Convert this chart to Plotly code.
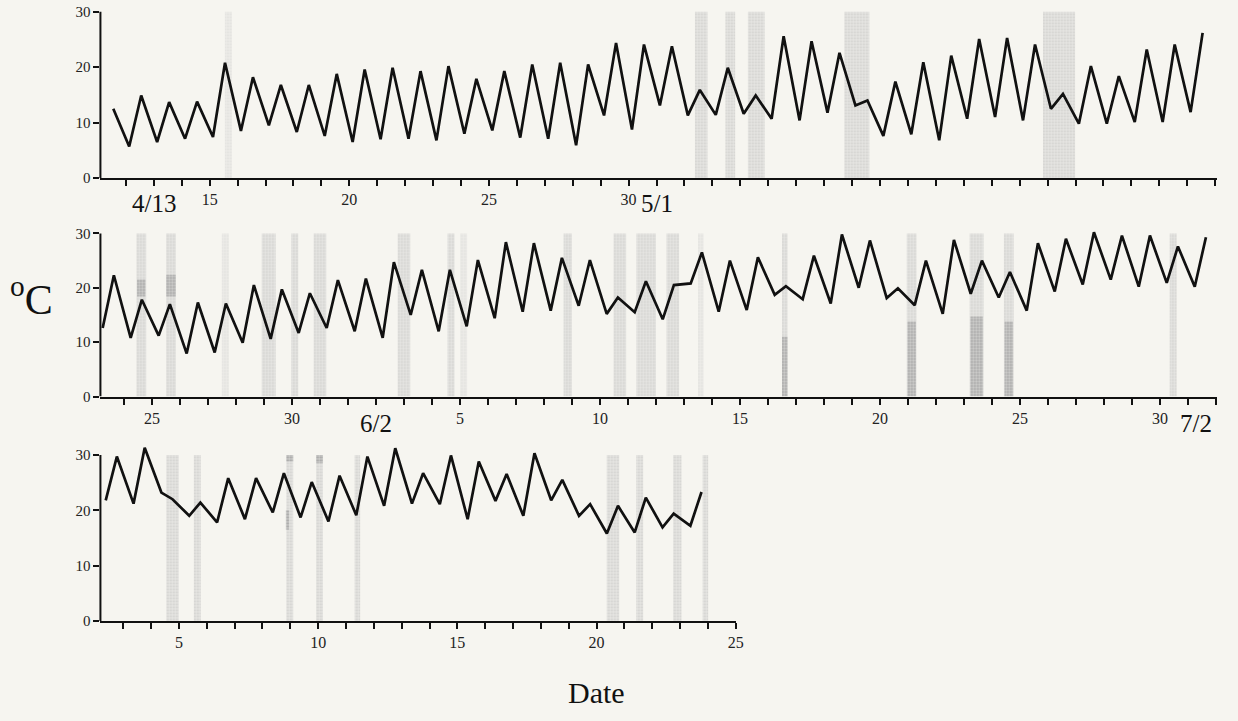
import plotly.graph_objects as go

# ---------------- data ----------------
# Panel 1: April 11 .. May 20 (day number counted from April 0; May d -> 30+d)
days1 = list(range(11, 51))
tmin1 = [None, 5.7, 6.5, 7.1, 7.4, 8.5, 9.5, 8.3, 7.6, 6.5, 7.0, 7.1, 6.8, 8.0, 8.6, 7.3, 7.1, 5.9, 11.3, 8.75,
         13.1, 11.3, 11.4, 11.6, 10.7, 10.4, 11.8, 13.1, 7.6, 7.9, 6.8, 10.7, 11.0, 10.4, 12.5, 9.8, 9.8, 10.1, 10.1, 11.9]
tmax1 = [12.5, 14.9, 13.7, 13.8, 20.8, 18.2, 16.8, 16.8, 18.8, 19.6, 19.9, 19.3, 20.2, 17.9, 19.3, 20.5, 20.8, 20.5, 24.4, 24.1,
         23.8, 15.9, 19.9, 14.9, 25.6, 24.7, 22.6, 14.0, 17.4, 20.9, 22.1, 25.1, 25.3, 24.1, 15.2, 20.2, 18.4, 23.2, 24.1, 26.2]

# Panel 2: May 23 .. July 1 (day number counted from May 0; June d -> 31+d, July d -> 61+d)
days2 = list(range(23, 63))
tmin2 = [12.6, 10.8, 11.2, 7.9, 8.1, 9.9, 10.6, 11.7, 12.6, 12.0, 10.8, 15.0, 12.0, 12.9, 14.4, 15.6, 15.8, 16.7, 15.2, 15.5,
         14.2, 20.8, 15.6, 15.9, 18.7, 17.9, 17.1, 20.0, 18.1, 16.8, 15.2, 18.9, 18.2, 15.8, 19.3, 20.6, 21.5, 20.2, 20.9, 20.2]
tmax2 = [22.3, 17.8, 17.0, 17.3, 17.1, 20.5, 19.7, 19.0, 21.4, 21.7, 24.7, 23.3, 23.3, 25.1, 28.4, 28.2, 25.5, 25.1, 18.2, 21.2,
         20.5, 26.5, 25.0, 25.6, 20.3, 25.9, 29.8, 28.7, 19.9, 25.0, 28.8, 25.0, 22.9, 28.2, 29.0, 30.2, 29.6, 29.6, 27.6, 29.3]

# Panel 3: July 2 .. July 23
days3 = list(range(2, 24))
tmin3 = [21.8, 21.2, 23.2, 19.0, 17.8, 18.4, 19.6, 18.7, 18.0, 19.1, 20.8, 21.2, 21.1, 18.4, 21.7, 19.0, 21.8, 19.0, 15.8, 16.0, 16.9, 17.2]
tmax3 = [29.7, 31.3, 22.0, 21.4, 25.8, 25.8, 26.7, 25.1, 26.25, 29.7, 31.2, 26.7, 29.9, 28.8, 26.55, 30.3, 25.5, 21.1, 20.8, 22.3, 19.4, 23.3]

# rain periods (day, duration in days)
rain1_day = [32.6, 33.64, 34.57, 38.17, 45.41]
rain1_len = [0.45, 0.35, 0.6, 0.9, 1.15]
faint1_day = [15.67]
faint1_len = [0.25]
rain2_day = [24.62, 25.68, 29.17, 30.1, 31.0, 34.0, 35.68, 39.85, 41.71, 42.65, 43.6, 47.6, 52.13, 54.45, 55.6, 61.47]
rain2_len = [0.35, 0.35, 0.5, 0.25, 0.45, 0.45, 0.25, 0.3, 0.45, 0.7, 0.45, 0.2, 0.35, 0.5, 0.35, 0.25]
faint2_day = [27.62, 36.13, 44.6]
faint2_len = [0.25, 0.25, 0.2]
rain3_day = [4.77, 5.66, 8.98, 10.05, 11.41, 20.59, 21.55, 22.9, 23.91]
rain3_len = [0.45, 0.25, 0.25, 0.25, 0.2, 0.45, 0.25, 0.3, 0.2]

# darker stippled marks (day, low, high, duration)
mark2_day = [24.62, 25.68, 47.6, 52.13, 54.45, 55.6]
mark2_lo = [18.4, 18.4, 0, 0, 0, 0]
mark2_hi = [21.5, 22.4, 11.0, 13.8, 14.7, 13.8]
mark2_len = [0.3, 0.35, 0.2, 0.3, 0.45, 0.3]
mark3_day = [8.98, 10.05, 8.9]
mark3_lo = [28.8, 28.5, 16.5]
mark3_hi = [30.0, 30.0, 20.0]
mark3_len = [0.25, 0.25, 0.12]

# tick labels
ticks1 = {15: "15", 20: "20", 25: "25", 30: "30"}
ticks2 = {25: "25", 30: "30", 36: "5", 41: "10", 46: "15", 51: "20", 56: "25", 61: "30"}
ticks3 = {5: "5", 10: "10", 15: "15", 20: "20", 25: "25"}
date_marks1 = [(13, "4/13"), (31, "5/1")]
date_marks2 = [(33, "6/2"), (62.3, "7/2")]

# ---------------- figure ----------------
BG = "#f6f5f0"
SERIF = "Liberation Serif, Times New Roman, serif"
W, H = 1238, 721

panels = [
    dict(days=days1, tmin=tmin1, tmax=tmax1, off=(0.12, 0.55), rng=[11.09, 51.05], ticks=ticks1,
         tickrange=(12, 51), rain=(rain1_day, rain1_len), faint=(faint1_day, faint1_len), marks=None,
         xdom=[101, 1223.5], ypx=(180, 12)),
    dict(days=days2, tmin=tmin2, tmax=tmax2, off=(0.24, 0.64), rng=[23.16, 63.02], ticks=ticks2,
         tickrange=(24, 63), rain=(rain2_day, rain2_len), faint=(faint2_day, faint2_len),
         marks=(mark2_day, mark2_lo, mark2_hi, mark2_len), xdom=[101, 1223.5], ypx=(401, 236)),
    dict(days=days3, tmin=tmin3, tmax=tmax3, off=(0.37, 0.77), rng=[2.18, 25.02], ticks=ticks3,
         tickrange=(3, 25), rain=(rain3_day, rain3_len), faint=None,
         marks=(mark3_day, mark3_lo, mark3_hi, mark3_len), xdom=[101, 740.5], ypx=(628, 460)),
]

fig = go.Figure()
layout = dict(width=W, height=H, margin=dict(l=0, r=0, t=0, b=0), autosize=False,
              paper_bgcolor=BG, plot_bgcolor=BG, showlegend=False, barmode="overlay",
              hovermode=False)
shapes = []
annotations = []

for i, p in enumerate(panels, start=1):
    xa = "x" if i == 1 else f"x{i}"
    ya = "y" if i == 1 else f"y{i}"
    # build zig-zag: min in morning, max in afternoon
    xs, ys = [], []
    for d, lo, hi in zip(p["days"], p["tmin"], p["tmax"]):
        if lo is not None:
            xs.append(d + p["off"][0]); ys.append(lo)
        if hi is not None:
            xs.append(d + p["off"][1]); ys.append(hi)

    if p["faint"]:
        fd, fl = p["faint"]
        fig.add_trace(go.Bar(x=fd, y=[30] * len(fd), width=fl, xaxis=xa, yaxis=ya,
                             marker=dict(color="rgba(205,205,205,0.22)", line=dict(width=0),
                                         pattern=dict(shape=".", fgcolor="rgba(175,175,175,0.45)",
                                                      size=3, solidity=0.3))))
    rd, rl = p["rain"]
    fig.add_trace(go.Bar(x=rd, y=[30] * len(rd), width=rl, xaxis=xa, yaxis=ya,
                         marker=dict(color="rgba(200,200,200,0.35)", line=dict(width=0),
                                     pattern=dict(shape=".", fgcolor="rgba(160,160,160,0.65)",
                                                  size=3, solidity=0.35))))
    if p["marks"]:
        md, mlo, mhi, ml = p["marks"]
        fig.add_trace(go.Bar(x=md, y=[h - l for h, l in zip(mhi, mlo)], base=mlo, width=ml,
                             xaxis=xa, yaxis=ya,
                             marker=dict(color="rgba(175,175,175,0.45)", line=dict(width=0),
                                         pattern=dict(shape=".", fgcolor="rgba(110,110,110,0.8)",
                                                      size=3, solidity=0.4))))
    fig.add_trace(go.Scatter(x=xs, y=ys, mode="lines", xaxis=xa, yaxis=ya,
                             line=dict(color="#111111", width=2.7)))

    y0px, y30px = p["ypx"]
    per = (y0px - y30px) / 30.0
    ytop = y0px - 32 * per
    all_days = list(range(p["tickrange"][0], p["tickrange"][1] + 1))
    lab_vals = sorted(p["ticks"].keys())
    layout["xaxis" if i == 1 else f"xaxis{i}"] = dict(
        domain=[p["xdom"][0] / W, p["xdom"][1] / W], range=p["rng"], anchor=ya,
        showgrid=False, zeroline=False, showline=True, linecolor="#111", linewidth=2,
        ticks="outside", ticklen=6, tickwidth=1.5, tickcolor="#111",
        tickmode="array", tickvals=lab_vals, ticktext=[p["ticks"][v] for v in lab_vals],
        tickfont=dict(family=SERIF, size=16, color="#222"),
        minor=dict(tickmode="array", tickvals=all_days, ticks="outside", ticklen=6,
                   tickwidth=1.5, tickcolor="#111", showgrid=False))
    layout["yaxis" if i == 1 else f"yaxis{i}"] = dict(
        domain=[1 - y0px / H, 1 - ytop / H], range=[0, 32], anchor=xa,
        showgrid=False, zeroline=False, showline=False,
        ticks="outside", ticklen=6, tickwidth=1.5, tickcolor="#111",
        tickvals=[0, 10, 20, 30], tickfont=dict(family=SERIF, size=15, color="#222"))
    shapes.append(dict(type="line", xref=f"{xa} domain", yref=ya, x0=0, x1=0, y0=0, y1=30,
                       line=dict(color="#111", width=2)))

for d, t in date_marks1:
    annotations.append(dict(x=d, y=1 - 206 / H, xref="x", yref="paper", text=t, showarrow=False,
                            font=dict(family=SERIF, size=25, color="#111"), xanchor="center", yanchor="middle"))
for d, t in date_marks2:
    annotations.append(dict(x=d, y=1 - 428 / H, xref="x2", yref="paper", text=t, showarrow=False,
                            font=dict(family=SERIF, size=25, color="#111"), xanchor="center", yanchor="middle"))

annotations.append(dict(x=32 / W, y=1 - 300 / H, xref="paper", yref="paper", text="<sup>o</sup>C",
                        showarrow=False, font=dict(family=SERIF, size=42, color="#111"),
                        xanchor="center", yanchor="middle"))
annotations.append(dict(x=600 / W, y=1 - 700 / H, xref="paper", yref="paper", text="Date",
                        showarrow=False, font=dict(family=SERIF, size=30, color="#111"),
                        xanchor="center", yanchor="middle"))

layout["shapes"] = shapes
layout["annotations"] = annotations
fig.update_layout(**layout)
fig.write_html("out.html")
